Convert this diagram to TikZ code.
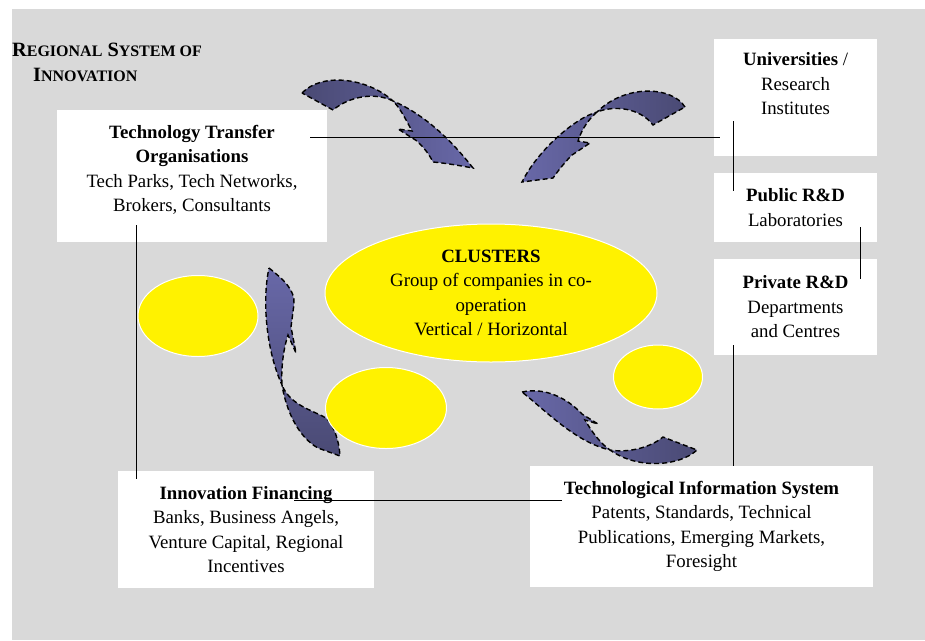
\documentclass[tikz,border=0pt]{standalone}
\usepackage{fontspec}
\setmainfont{Liberation Serif}
\usetikzlibrary{shapes.geometric}
\definecolor{bggray}{RGB}{217,217,217}
\definecolor{arrowdark}{RGB}{74,74,116}
\definecolor{arrowlight}{RGB}{104,104,168}
\newcommand{\fsc}[2]{#1{\fontsize{16}{16}\selectfont #2}}

\begin{document}
\begin{tikzpicture}[x=1pt,y=-1pt,
  every node/.style={font=\fontsize{18.8}{24.5}\selectfont},
  box/.style={fill=white, align=center, inner sep=0pt},
  txt/.style={align=center, anchor=center, inner sep=0pt},
  blob/.style={ellipse, fill=yellow, draw=white, line width=1pt, align=center, inner sep=0pt},
  twist/.style={draw=black, dash pattern=on 5pt off 3pt, line width=1.4pt},
  link/.style={draw=black, line width=1pt}]
\useasboundingbox (0,0) rectangle (925,640);
\fill[bggray] (12,9) rectangle (925,640);

\node[anchor=north west, align=left, inner sep=0pt, font=\fontsize{20.3}{25}\selectfont\bfseries] (title) at (12,43)
  {\fsc{R}{EGIONAL} \fsc{S}{YSTEM OF}\\\hspace*{21pt}\fsc{I}{NNOVATION}};

% boxes
\node[box, minimum width=270, minimum height=132,
  label={[txt, yshift=6pt]center:{\textbf{Technology Transfer}\\\textbf{Organisations}\\Tech Parks, Tech Networks,\\Brokers, Consultants}}] (tto) at (192,176) {};
\node[box, minimum width=163, minimum height=117,
  label={[txt, yshift=13.5pt]center:{\textbf{Universities} /\\Research\\Institutes}}] (univ) at (795.5,97.5) {};
\node[box, minimum width=163, minimum height=69] (pub) at (795.5,207.5) {\textbf{Public R\&D}\\Laboratories};
\node[box, minimum width=163, minimum height=96] (priv) at (795.5,307) {\textbf{Private R\&D}\\Departments\\and Centres};
\node[box, minimum width=256, minimum height=117] (fin) at (246,529.5)
  {\textbf{Innovation Financing}\\Banks, Business Angels,\\Venture Capital, Regional\\Incentives};
\node[box, minimum width=343, minimum height=121] (tis) at (701.5,526.5)
  {\textbf{Technological Information System}\\Patents, Standards, Technical\\Publications, Emerging Markets,\\Foresight};

% twisted arrows
\draw[twist, left color=arrowdark, right color=arrowlight]
  (302,93) .. controls (322,72) and (368,78) .. (393,101)
  .. controls (428,116) and (455,145) .. (473,168)
  .. controls (462,166) and (445,163) .. (433,162)
  .. controls (428,152) and (422,146) .. (417,141)
  -- (398,129) -- (412,131)
  .. controls (405,118) and (400,108) .. (393,101)
  .. controls (375,92) and (350,96) .. (333,110) -- cycle;
\draw[twist, left color=arrowlight, right color=arrowdark]
  (685,107) .. controls (672,86) and (625,84) .. (597,112)
  .. controls (575,118) and (538,150) .. (522,182)
  -- (553,178)
  .. controls (560,168) and (567,160) .. (572,155)
  -- (590,143) -- (578,141)
  .. controls (582,128) and (590,118) .. (597,112)
  .. controls (615,105) and (640,108) .. (653,125) -- cycle;
\draw[twist, top color=arrowlight, bottom color=arrowdark]
  (269,268) .. controls (284,280) and (295,290) .. (294,304)
  -- (291,327) -- (296,353) -- (288,335)
  .. controls (283,350) and (281,370) .. (282,385)
  .. controls (290,405) and (312,410) .. (326,418)
  .. controls (334,426) and (339,440) .. (340,456)
  -- (318,448)
  .. controls (298,437) and (286,410) .. (282,385)
  .. controls (266,350) and (262,300) .. (269,268) -- cycle;
\draw[twist, left color=arrowlight, right color=arrowdark]
  (522,392) .. controls (545,387) and (567,398) .. (582,414)
  -- (598,424) -- (585,420)
  .. controls (592,432) and (600,443) .. (610,450)
  .. controls (627,453) and (650,448) .. (663,437)
  -- (697,450)
  .. controls (680,466) and (638,470) .. (610,450)
  .. controls (575,442) and (545,410) .. (522,392) -- cycle;

% clusters
\node[blob, minimum width=120, minimum height=81] (e1) at (198,316) {};
\node[blob, minimum width=121, minimum height=81] (e2) at (386,408) {};
\node[blob, minimum width=89, minimum height=64] (e3) at (658,377) {};
\node[blob, minimum width=332, minimum height=138] (clu) at (491,293)
  {\textbf{CLUSTERS}\\Group of companies in co-\\operation\\Vertical / Horizontal};

% links
\draw[link] ([shift={(-17,28)}]tto.north east) coordinate (a) -- ([xshift=6]a -| univ.west);
\draw[link] ([shift={(20,-35)}]univ.south west) -- ([shift={(20,18)}]pub.north west);
\draw[link] ([shift={(-17,-15)}]pub.south east) -- ([shift={(-17,20)}]priv.north east);
\draw[link] ([shift={(20,-10)}]priv.south west) coordinate (b) -- (b |- tis.north);
\draw[link] ([shift={(80,-17)}]tto.south west) -- ([shift={(19,8)}]fin.north west);
\draw[link] ([shift={(-80,30)}]fin.north east) coordinate (c) -- ([xshift=32]c -| tis.west);
\end{tikzpicture}
\end{document}
